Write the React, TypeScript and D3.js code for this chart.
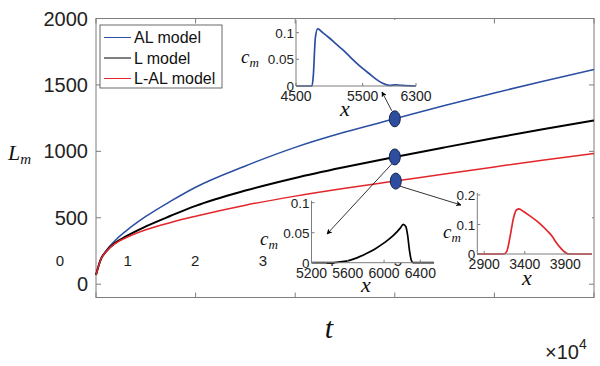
import React from 'react';
import { scaleLinear, line, curveMonotoneX } from 'd3';

// main plot: time (t) and front position L_m for the three models
const tValues = [0, 500, 1000, 2000, 3000, 5000, 7500, 10000, 15000, 20000, 25000, 30000, 35000, 40000, 45000, 50000];
const alModel = [70, 190, 250, 335, 400, 510, 625, 730, 890, 1030, 1145, 1245, 1345, 1440, 1530, 1616];
const lModel = [70, 190, 245, 315, 360, 435, 515, 590, 705, 800, 882, 958, 1030, 1100, 1168, 1233];
const lalModel = [70, 190, 245, 310, 350, 410, 465, 512, 595, 663, 722, 776, 830, 883, 935, 983];

const yTicks = [0, 500, 1000, 1500, 2000];
const xTicks = [0, 10000, 20000, 30000, 40000, 50000];
const strayLabels = ['0', '1', '2', '3', '4', '5'];
const legendNames = ['AL model', 'L model', 'L-AL model'];

// insets: concentration profiles c_m(x) at t = 3e4
const alX = [4500, 4700, 4740, 4760, 4790, 4825, 4900, 5000, 5100, 5200, 5300, 5400, 5500, 5600, 5700, 5800, 5900, 6000, 6100, 6300];
const alC = [0, 0, 0, 0.02, 0.09, 0.107, 0.1, 0.09, 0.079, 0.068, 0.056, 0.044, 0.033, 0.023, 0.013, 0.005, 0.001, 0.002, 0.001, 0];
const alTicksX = [4500, 5500, 6300];
const alTicksY = [0, 0.05, 0.1];

const lX = [5200, 5400, 5500, 5600, 5700, 5800, 5900, 6000, 6100, 6180, 6210, 6240, 6260, 6280, 6300, 6320, 6550];
const lC = [0, 0, 0.001, 0.003, 0.008, 0.015, 0.023, 0.033, 0.045, 0.058, 0.064, 0.06, 0.045, 0.02, 0.004, 0, 0];
const lTicksX = [5200, 5600, 6000, 6400];
const lTicksY = [0, 0.05, 0.1];

const lalX = [2815, 3140, 3180, 3220, 3260, 3300, 3330, 3380, 3460, 3580, 3680, 3740, 3790, 3850, 3900, 3950, 4230];
const lalC = [0, 0, 0.01, 0.06, 0.12, 0.15, 0.153, 0.145, 0.13, 0.105, 0.078, 0.059, 0.038, 0.018, 0.005, 0, 0];
const lalTicksX = [2900, 3400, 3900];
const lalTicksY = [0, 0.1, 0.2];

const BLUE = '#2b4ea2';
const RED = '#e3262b';
const BLACK = '#000000';
const FRAME = '#7d7d7d';
const SANS = '"Liberation Sans", Arial, Helvetica, sans-serif';
const SERIF = '"Liberation Serif", "DejaVu Serif", serif';

const x = scaleLinear().domain([0, 50000]).range([96, 594]);
const y = scaleLinear().domain([-100, 2000]).range([297.5, 18.5]);
const stray = scaleLinear().domain([0, 5]).range([60, 398]);

const mainLine = (vals: number[]) =>
  line<number>()
    .x((_, i) => x(tValues[i]))
    .y((d) => y(d))
    .curve(curveMonotoneX)(vals) || '';

interface InsetProps {
  xs: number[];
  cs: number[];
  color: string;
  xDomain: [number, number];
  yDomain: [number, number];
  xRange: [number, number];
  yRange: [number, number];
  ticksX: number[];
  ticksY: number[];
  cmPos: [number, number];
  xPos: [number, number];
}

const Cm = ({ px, py }: { px: number; py: number }) => (
  <text x={px} y={py} fontFamily={SERIF} fontStyle="italic" fontSize={19} fill="#111">
    c<tspan fontSize={13} dy={4}>m</tspan>
  </text>
);

const Inset: React.FC<InsetProps> = (p) => {
  const sx = scaleLinear().domain(p.xDomain).range(p.xRange);
  const sy = scaleLinear().domain(p.yDomain).range(p.yRange);
  const path =
    line<number>()
      .x((_, i) => sx(p.xs[i]))
      .y((d) => sy(d))
      .curve(curveMonotoneX)(p.cs) || '';
  const [x0, x1] = p.xRange;
  const [y0, y1] = p.yRange;
  return (
    <g>
      <rect x={x0} y={y1 - 2} width={x1 - x0} height={y0 - y1 + 2} fill="#fff" />
      <path d={path} fill="none" stroke={p.color} strokeWidth={1.7} />
      <line x1={x0} x2={x0} y1={y1 - 2} y2={y0} stroke={FRAME} strokeWidth={1} />
      <line x1={x0} x2={x1} y1={y0} y2={y0} stroke={FRAME} strokeWidth={1} />
      {p.ticksY.map((t) => (
        <g key={t}>
          <line x1={x0} x2={x0 + 3} y1={sy(t)} y2={sy(t)} stroke={FRAME} />
          <text x={x0 - 2} y={sy(t) + 5} textAnchor="end" fontFamily={SANS} fontSize={13.5} fill="#222">
            {t}
          </text>
        </g>
      ))}
      {p.ticksX.map((t) => (
        <g key={t}>
          <line x1={sx(t)} x2={sx(t)} y1={y0} y2={y0 - 3} stroke={FRAME} />
          <text x={sx(t)} y={y0 + 15} textAnchor="middle" fontFamily={SANS} fontSize={14} fill="#222">
            {t}
          </text>
        </g>
      ))}
      <Cm px={p.cmPos[0]} py={p.cmPos[1]} />
      <text x={p.xPos[0]} y={p.xPos[1]} textAnchor="middle" fontFamily={SERIF} fontStyle="italic" fontSize={22} fill="#111">
        x
      </text>
    </g>
  );
};

const App = () => {
  const legendColors = [BLUE, BLACK, RED];
  return (
    <svg width={600} height={366} style={{ position: 'absolute', left: 0, top: 0, background: '#fff' }}>
      <defs>
        <marker id="arr" viewBox="0 0 10 10" refX={9} refY={5} markerWidth={7} markerHeight={7} orient="auto-start-reverse">
          <path d="M0,0 L10,5 L0,10 L3,5 z" fill="#000" />
        </marker>
      </defs>

      {/* stray tick labels */}
      {strayLabels.map((s, i) => (
        <text key={s} x={stray(i)} y={266} textAnchor="middle" fontFamily={SANS} fontSize={15} fill="#222">
          {s}
        </text>
      ))}

      {/* frame and ticks */}
      <rect x={x(0)} y={y(2000)} width={x(50000) - x(0)} height={y(-100) - y(2000)} fill="none" stroke={FRAME} />
      {xTicks.map((t) => (
        <g key={t}>
          <line x1={x(t)} x2={x(t)} y1={y(-100)} y2={y(-100) - 5} stroke={FRAME} />
          <line x1={x(t)} x2={x(t)} y1={y(2000)} y2={y(2000) + 5} stroke={FRAME} />
        </g>
      ))}
      {yTicks.map((t) => (
        <g key={t}>
          <line x1={x(0)} x2={x(0) + 5} y1={y(t)} y2={y(t)} stroke={FRAME} />
          <line x1={x(50000)} x2={x(50000) - 5} y1={y(t)} y2={y(t)} stroke={FRAME} />
          <text x={88} y={y(t) + 7} textAnchor="end" fontFamily={SANS} fontSize={20} fill="#222">
            {t}
          </text>
        </g>
      ))}

      {/* curves */}
      <path d={mainLine(alModel)} fill="none" stroke={BLUE} strokeWidth={1.5} />
      <path d={mainLine(lModel)} fill="none" stroke={BLACK} strokeWidth={2} />
      <path d={mainLine(lalModel)} fill="none" stroke={RED} strokeWidth={1.5} />

      {/* insets */}
      <Inset xs={alX} cs={alC} color={BLUE} xDomain={[4500, 6300]} yDomain={[0, 0.12]} xRange={[296, 416]} yRange={[86, 22]}
        ticksX={alTicksX} ticksY={alTicksY} cmPos={[241, 63]} xPos={[345, 116]} />
      <Inset xs={lX} cs={lC} color={BLACK} xDomain={[5200, 6550]} yDomain={[0, 0.1]} xRange={[311.5, 434]} yRange={[262.7, 202.7]}
        ticksX={lTicksX} ticksY={lTicksY} cmPos={[260, 245]} xPos={[366, 292]} />
      <Inset xs={lalX} cs={lalC} color={RED} xDomain={[2815, 4230]} yDomain={[0, 0.2]} xRange={[477.3, 592]} yRange={[254, 195]}
        ticksX={lalTicksX} ticksY={lalTicksY} cmPos={[443, 238]} xPos={[527, 285]} />

      {/* markers and arrows */}
      <line x1={x(30000) - 3} y1={y(1245) - 8} x2={382} y2={92} stroke="#000" strokeWidth={0.8} markerEnd="url(#arr)" />
      <line x1={x(30000) - 3} y1={y(958) + 7} x2={327} y2={234} stroke="#000" strokeWidth={0.8} markerEnd="url(#arr)" />
      <line x1={x(30100) + 4} y1={y(776) + 5} x2={461} y2={205} stroke="#000" strokeWidth={0.8} markerEnd="url(#arr)" />
      <ellipse cx={x(30000)} cy={y(1245)} rx={5.5} ry={8} fill="#2d4e9f" stroke="#15244d" />
      <ellipse cx={x(30000)} cy={y(958)} rx={5.5} ry={8} fill="#2d4e9f" stroke="#15244d" />
      <ellipse cx={x(30100)} cy={y(776)} rx={5.5} ry={8} fill="#2d4e9f" stroke="#15244d" />

      {/* legend */}
      <rect x={100} y={25} width={122} height={63} fill="#fff" stroke="#444" strokeWidth={0.8} />
      {legendNames.map((n, i) => (
        <g key={n}>
          <line x1={104} x2={131} y1={37.5 + i * 20.5} y2={37.5 + i * 20.5} stroke={legendColors[i]} strokeWidth={1} />
          <text x={134} y={43 + i * 20.5} fontFamily={SANS} fontSize={16} fill="#111">
            {n}
          </text>
        </g>
      ))}

      {/* axis labels */}
      <text x={8} y={160} fontFamily={SERIF} fontStyle="italic" fontSize={22} fill="#111">
        L<tspan fontSize={15} dy={4}>m</tspan>
      </text>
      <text x={329} y={338} textAnchor="middle" fontFamily={SERIF} fontStyle="italic" fontSize={30} fill="#111">
        t
      </text>
      <text x={545} y={359} fontFamily={SANS} fontSize={20} fill="#222">
        ×10<tspan fontSize={14} dy={-10}>4</tspan>
      </text>
    </svg>
  );
};

export default App;
